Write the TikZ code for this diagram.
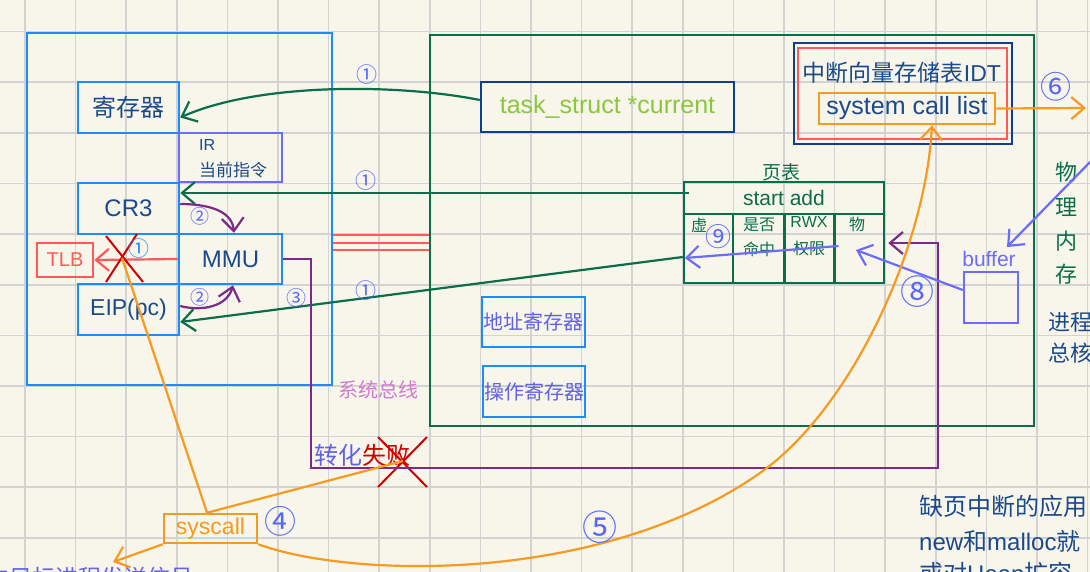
\documentclass[tikz,border=0pt]{standalone}
\usepackage{fontspec}
\setmainfont{Noto Sans CJK SC}
\newfontfamily\lat{Liberation Sans}
\usetikzlibrary{arrows.meta}
\definecolor{bgc}{HTML}{F8F6EA}
\definecolor{gridc}{HTML}{D3D3D3}
\definecolor{cpub}{HTML}{1A8CFF}
\definecolor{txtb}{HTML}{1B4A8C}
\definecolor{navy}{HTML}{0D3F91}
\definecolor{grn}{HTML}{0A6E4A}
\definecolor{purp}{HTML}{7B2A8A}
\definecolor{lred}{HTML}{FF5A5A}
\definecolor{dred}{HTML}{D00000}
\definecolor{orng}{HTML}{F79A20}
\definecolor{lav}{HTML}{6B6BFF}
\definecolor{lavt}{HTML}{6060E8}
\definecolor{ygrn}{HTML}{8CC63F}
\definecolor{pnk}{HTML}{D07AD0}
\definecolor{circ}{HTML}{5566FF}
\newcommand\fsz[1]{\fontsize{#1}{#1}\selectfont}
\begin{document}
\begin{tikzpicture}[x=1pt,y=-1pt,
  box/.style={draw, line width=2.5pt, inner sep=0pt},
  bluebox/.style={box, draw=cpub, text=txtb},
  tbig/.style={font=\fsz{24}\lat},
  conn/.style={line width=2.2pt},
  barb/.style={-{Straight Barb[length=13pt,width=22pt]}},
  cnum/.style={text=circ, inner sep=0pt},
  gtxt/.style={text=grn, inner sep=0pt}
]
\useasboundingbox (0,0) rectangle (1090,572);
\clip (0,0) rectangle (1090,572);
\fill[bgc] (0,0) rectangle (1090,572);
\foreach \i in {0,...,21} \draw[gridc, line width=1.6pt] ({25+50.6*\i},0) -- ({25+50.6*\i},572);
\foreach \j in {0,...,10} \draw[gridc, line width=1.6pt] (0,{31.7+50.6*\j}) -- (1090,{31.7+50.6*\j});

% CPU
\node[box, draw=cpub, minimum width=305, minimum height=352] (cpu) at (179.5,209) {};
\node[bluebox, minimum width=101, minimum height=51, font=\fsz{24}] (reg) at (128.5,107.5) {寄存器};
\node[box, draw=lav, minimum width=103, minimum height=49] (ir) at (230.5,157.5) {};
\node[text=txtb, anchor=west, inner sep=0, font=\fsz{16}\lat] (irt) at (199,145) {IR};
\node[text=txtb, anchor=west, inner sep=0, font=\fsz{17}] (irc) at (199,170) {当前指令};
\node[bluebox, minimum width=101, minimum height=51, tbig] (cr3) at (128.5,208.5) {CR3};
\node[bluebox, minimum width=103, minimum height=50, tbig] (mmu) at (230.5,259) {MMU};
\node[bluebox, minimum width=101, minimum height=51, font=\fsz{23}\lat] (eip) at (128.5,309.5) {EIP(pc)};
\node[box, draw=lred, text=lred, minimum width=56, minimum height=34, font=\fsz{20}\lat] (tlb) at (65,260) {TLB};

% memory
\node[box, draw=grn, minimum width=604, minimum height=391] (mem) at (732,230.5) {};
\node[box, draw=navy, text=ygrn, minimum width=253, minimum height=50, font=\fsz{25}\lat] (task) at (607.5,107) {task\_struct *current};
\node[box, draw=cpub, text=lavt, minimum width=103, minimum height=50, font=\fsz{20}] (addr) at (533.5,322) {地址寄存器};
\node[box, draw=cpub, text=lavt, minimum width=102, minimum height=51, font=\fsz{20}] (op) at (534,391.5) {操作寄存器};

% page table
\node[gtxt, font=\fsz{19}] (ptt) at (781,172) {页表};
\node[box, draw=grn, minimum width=200, minimum height=101] (pt) at (784,232.5) {};
\node[box, draw=grn, text=grn, minimum width=200, minimum height=32, font=\fsz{21}\lat] (sa) at (784,198) {start add};
\node[box, draw=grn, minimum width=49, minimum height=69] (vcell) at (708.5,248.5) {};
\node[box, draw=grn, minimum width=52, minimum height=69] (hcell) at (759,248.5) {};
\node[box, draw=grn, minimum width=50, minimum height=69] (rcell) at (809.5,248.5) {};
\node[box, draw=grn, minimum width=49, minimum height=69] (wcell) at (859.5,248.5) {};
\node[gtxt, font=\fsz{16}] at (699,225) {虚};
\node[gtxt, font=\fsz{16}] at (759,225) {是否};
\node[gtxt, font=\fsz{16}] at (759,249) {命中};
\node[gtxt, font=\fsz{16}\lat] at (809,222) {RWX};
\node[gtxt, font=\fsz{16}] at (809,248) {权限};
\node[gtxt, font=\fsz{16}] at (857,224) {物};

% IDT
\node[box, draw=navy, minimum width=218, minimum height=101] (idt) at (903,93.5) {};
\node[draw=lred, line width=2pt, inner sep=0, minimum width=209, minimum height=91] (idtin) at (902.5,93.5) {};
\node[text=txtb, inner sep=0, font=\fsz{23}] (idtt) at (902,73) {中断向量存储表{\lat IDT}};
\node[box, draw=orng, text=txtb, minimum width=176, minimum height=31, font=\fsz{25}\lat] (scl) at (907,108.5) {system call list};

% buffer
\node[box, draw=lav, minimum width=54, minimum height=51] (buf) at (991,297.5) {};
\node[text=lav, inner sep=0, font=\fsz{21}\lat] (bufl) at (989,259) {buffer};

% right texts
\node[gtxt, font=\fsz{22}] at (1066,172) {物};
\node[gtxt, font=\fsz{22}] at (1066,207) {理};
\node[gtxt, font=\fsz{22}] at (1066,241) {内};
\node[gtxt, font=\fsz{22}] at (1066,274) {存};
\node[text=txtb, anchor=west, inner sep=0, font=\fsz{22}] at (1048,322) {进程};
\node[text=txtb, anchor=west, inner sep=0, font=\fsz{22}] at (1048,353) {总核};
\node[text=txtb, anchor=west, inner sep=0, font=\fsz{24}] at (919,506) {缺页中断的应用};
\node[text=txtb, anchor=west, inner sep=0, font=\fsz{24}] at (919,541) {{\lat new}和{\lat malloc}就};
\node[text=txtb, anchor=west, inner sep=0, font=\fsz{24}] at (919,575) {或对{\lat Heap}扩容，};

% misc texts
\node[text=pnk, inner sep=0, font=\fsz{20}] (bus) at (378,390) {系统总线};
\node[inner sep=0, font=\fsz{24}, anchor=west] (fail) at (314,455) {\textcolor{lavt}{转化}\textcolor{dred}{失败}};
\node[box, draw=orng, text=orng, minimum width=93, minimum height=29, font=\fsz{23}\lat] (sc) at (210.5,528.5) {syscall};
\node[text=lavt, anchor=west, inner sep=0, font=\fsz{23}] (sig) at (-14,578) {向目标进程发送信号};

% coordinates
\coordinate (xa) at (122,258);
\coordinate (xb) at (403,461);
\coordinate (c5) at (760,473);
\coordinate (sigend) at (113,562);
\coordinate (six) at (1086,108);
\coordinate (topr) at (1094,158);

% green connectors
\draw[grn, conn, barb] ([yshift=7pt]task.west) .. controls (400,84) and (260,82) .. ([yshift=-10pt]reg.east);
\draw[grn, conn, barb] ([xshift=6pt,yshift=5pt]sa.west) -- ([yshift=15.5pt]cr3.east);
\draw[grn, conn, barb] ([yshift=-8.5pt]vcell.west) -- ([yshift=-12.5pt]eip.east);

% red
\foreach \d in {26,34,41} \draw[lred, line width=2pt] ([yshift=-\d pt]cpu.east) -- ([yshift=-\d pt]cpu.east -| mem.west);
\draw[lred, conn, barb] (mmu.west) -- (tlb.east);
\draw[dred, line width=2pt] (106,236) -- (143,282);
\draw[dred, line width=2pt] (137,234) -- (106,282);
\draw[dred, line width=2pt] (378,437) -- (427,487);
\draw[dred, line width=2pt] (427,437) -- (378,487);

% purple
\draw[purp, conn, barb] ([yshift=4.5pt]cr3.east) to[out=0, in=95] ([xshift=3.5pt]mmu.north);
\draw[purp, conn, barb] ([yshift=3.5pt]eip.east) to[out=-15, in=-105] ([xshift=2.5pt]mmu.south);
\draw[purp, conn, barb] (mmu.east) -- (311,259) -- (311,468) -- (938,468) -- (938,243) -- ([xshift=3pt,yshift=-10.5pt]pt.east);

% blue arrows
\draw[lav, conn, barb] ([xshift=-21pt,yshift=2.5pt]wcell.center) -- ([xshift=2pt,yshift=-9.5pt]vcell.west);
\draw[lav, conn, barb] ([yshift=7.5pt]buf.west) -- ([xshift=-3.5pt,yshift=-1.5pt]wcell.center);
\draw[lav, conn, barb] (topr) -- ([xshift=18pt,yshift=12pt]bufl.center);

% orange
\draw[orng, conn] (xa) -- ([xshift=-3.5pt]sc.north);
\draw[orng, conn] ([xshift=-3.5pt]sc.north) -- (xb);
\draw[orng, conn, barb] (sc.south west) -- (sigend);
\draw[orng, conn, barb] (sc.south east) .. controls (350,578) and (600,585) .. (c5) .. controls (850,410) and (925,250) .. ([xshift=25pt]scl.south);
\draw[orng, conn, barb] (scl.east) -- (six);

% circled numbers
\node[cnum, font=\fsz{21}] at (367,75) {①};
\node[cnum, font=\fsz{21}] at (366,181) {①};
\node[cnum, font=\fsz{21}] at (366,291) {①};
\node[inner sep=0, text=cpub, font=\fsz{21}] at (139,249) {①};
\node[cnum, font=\fsz{19}] at (200,216) {②};
\node[cnum, font=\fsz{19}] at (200,297) {②};
\node[cnum, font=\fsz{20}] at (296,298) {③};
\node[cnum, font=\fsz{32}] at (280,521) {④};
\node[cnum, font=\fsz{35}] at (600,527) {⑤};
\node[cnum, font=\fsz{34}] at (917,292) {⑧};
\node[cnum, font=\fsz{26}] at (718,237) {⑨};
\node[cnum, font=\fsz{31}] at (1056,87) {⑥};
\end{tikzpicture}
\end{document}
